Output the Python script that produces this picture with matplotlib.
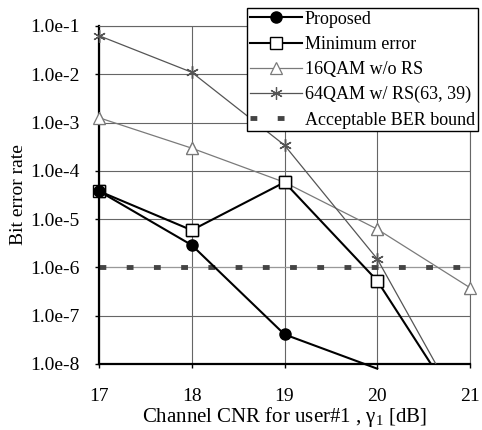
import matplotlib
matplotlib.use('Agg')
import matplotlib.pyplot as plt
import numpy as np

plt.rcParams['font.family'] = ['Liberation Serif', 'DejaVu Serif']
plt.rcParams['mathtext.fontset'] = 'custom'
plt.rcParams['mathtext.rm'] = 'Liberation Serif'
plt.rcParams['mathtext.it'] = 'Liberation Serif:italic'

# data
cnr = [17, 18, 19, 20, 21]
proposed = [3.8e-5, 2.9e-6, 4.1e-8, 8e-9]
min_error = [3.8e-5, 5.9e-6, 5.8e-5, 5.3e-7, 5.6e-10]
qam16 = [1.26e-3, 2.95e-4, 5.8e-5, 6.2e-6, 3.8e-7]
qam64 = [6.3e-2, 1.1e-2, 3.4e-4, 1.5e-6, 5.4e-10]
ber_bound = 1e-6

yticks = [1e-1, 1e-2, 1e-3, 1e-4, 1e-5, 1e-6, 1e-7, 1e-8]
ylabels = ['1.0e-1', '1.0e-2', '1.0e-3', '1.0e-4', '1.0e-5', '1.0e-6', '1.0e-7', '1.0e-8']

fig = plt.figure(figsize=(4.82, 4.30), dpi=100)
ax = fig.add_axes([99/482, 1-364/430, (470-99)/482, (364-26)/430])

gray = '#7a7a7a'
dgray = '#555555'


def series(x, y, shown, **kw):
    # line clipped to the axes, markers drawn on top without clipping
    line, = ax.plot(x, y, markevery=shown, **kw)
    mk = {k: v for k, v in kw.items() if k not in ('lw', 'label', 'color')}
    ax.plot(x, y, ls='none', markevery=shown, clip_on=False, **mk)
    return line


series(cnr, qam16, [0, 1, 2, 3, 4], color=gray, lw=0.9, marker='^', ms=8, mfc='white',
       mec=gray, mew=0.9, label='16QAM w/o RS', zorder=3)
series(cnr, qam64, [0, 1, 2, 3], color=dgray, lw=0.9, marker=(6, 2, 0), ms=9, mec=dgray,
       mew=0.9, label='64QAM w/ RS(63, 39)', zorder=3)
series(cnr, min_error, [0, 1, 2, 3], color='black', lw=1.5, marker='s', ms=8, mfc='white',
       mec='black', mew=1.0, label='Minimum error', zorder=4)
ax.plot(cnr[:4], proposed, color='black', lw=1.5, marker='o', ms=8, mfc='black', mec='black',
        markevery=[0, 1, 2], clip_on=False, label='Proposed', zorder=5)
ax.axhline(ber_bound, color='#999999', lw=0.8, zorder=2)
ax.axhline(ber_bound, color='#444444', lw=3.5, dashes=(1.4, 4.2), zorder=2.5,
           label='Acceptable BER bound')

ax.set_yscale('log')
ax.set_xlim(17, 21)
ax.set_ylim(1e-8, 1e-1)
ax.set_xticks(cnr)
ax.set_yticks(yticks)
ax.set_yticklabels(ylabels)
ax.minorticks_off()
ax.tick_params(labelsize=14, length=3, width=1, direction='out')
ax.tick_params(axis='x', pad=14.5)
ax.tick_params(axis='y', pad=11)
ax.grid(True, color='#666666', lw=0.8)
ax.set_axisbelow(True)
for s in ['top', 'right']:
    ax.spines[s].set_color('#666666')
    ax.spines[s].set_linewidth(0.8)
for s in ['left', 'bottom']:
    ax.spines[s].set_linewidth(1.6)

ax.set_ylabel('Bit error rate', fontsize=14, labelpad=2)
ax.set_xlabel('Channel CNR for user#$\\mathit{1}$ , \u03b3$_{1}$ [dB]', fontsize=15, labelpad=0)

h, l = ax.get_legend_handles_labels()
order = [3, 2, 0, 1, 4]
leg = fig.legend([h[i] for i in order], [l[i] for i in order], loc='upper left',
                 bbox_to_anchor=(247/482, 1-8/430), bbox_transform=fig.transFigure,
                 fontsize=13, frameon=True, fancybox=False, edgecolor='black',
                 framealpha=1, handlelength=2.9, handletextpad=0.15, labelspacing=0.45,
                 borderpad=0.15, borderaxespad=0)
leg.get_frame().set_linewidth(1.0)

fig.savefig('out.png', dpi=100)
